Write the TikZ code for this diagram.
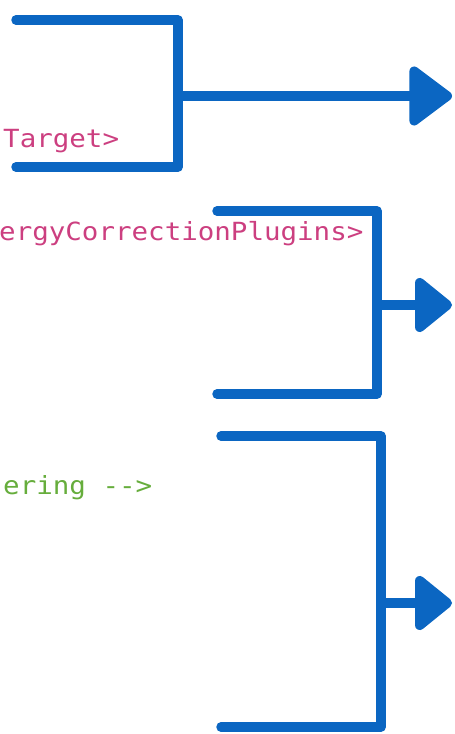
\documentclass[tikz,border=0pt]{standalone}
\usepackage{fontspec}
\setmonofont[FakeStretch=1.1]{DejaVu Sans Mono}
\usetikzlibrary{arrows.meta,positioning}
\definecolor{penblue}{HTML}{0B66C2}
\definecolor{tagpink}{HTML}{CC3F80}
\definecolor{cmtgreen}{HTML}{66AD3C}
\tikzstyle{pen}=[
        draw = penblue,
        line width = 9.5pt,
        line join = round,
        line cap = round
    ]
\tikzstyle{code}=[
        inner sep = 0pt,
        anchor = base west,
        font = \ttfamily\fontsize{25}{25}\selectfont
    ]

\begin{document}
\begin{tikzpicture}[x=1pt, y=-1pt]
        \useasboundingbox (0,0) rectangle (455,734);

        \node[code, text=tagpink] (target) at (3,147) {Target>};
        \node[code, text=tagpink] (plugins) at (-1,240) {ergyCorrectionPlugins>};
        \node[code, text=cmtgreen] (comment) at (3,494) {ering -->};

        % first bracket
        \coordinate (A1) at (16,20);
        \coordinate (A2) at (178,167);
        \coordinate (A3) at (16,167);
        \coordinate (AM) at (178,96);
        \coordinate (AT) at (452,96);
        \draw[pen] (A1) -| (A2) -- (A3);
        \draw[pen, -{Triangle[round, length=46pt, width=66pt]}] (AM) -- (AT);

        % second bracket
        \coordinate (B1) at (217,211);
        \coordinate (B2) at (377,394);
        \coordinate (B3) at (217,394);
        \coordinate (BM) at (377,305);
        \coordinate (BT) at (452,305);
        \draw[pen] (B1) -| (B2) -- (B3);
        \draw[pen, -{Triangle[round, length=40pt, width=62pt]}] (BM) -- (BT);

        % third bracket
        \coordinate (C1) at (221,436);
        \coordinate (C2) at (381,727);
        \coordinate (C3) at (221,727);
        \coordinate (CM) at (381,603);
        \coordinate (CT) at (452,603);
        \draw[pen] (C1) -| (C2) -- (C3);
        \draw[pen, -{Triangle[round, length=40pt, width=62pt]}] (CM) -- (CT);
    \end{tikzpicture}
\end{document}
